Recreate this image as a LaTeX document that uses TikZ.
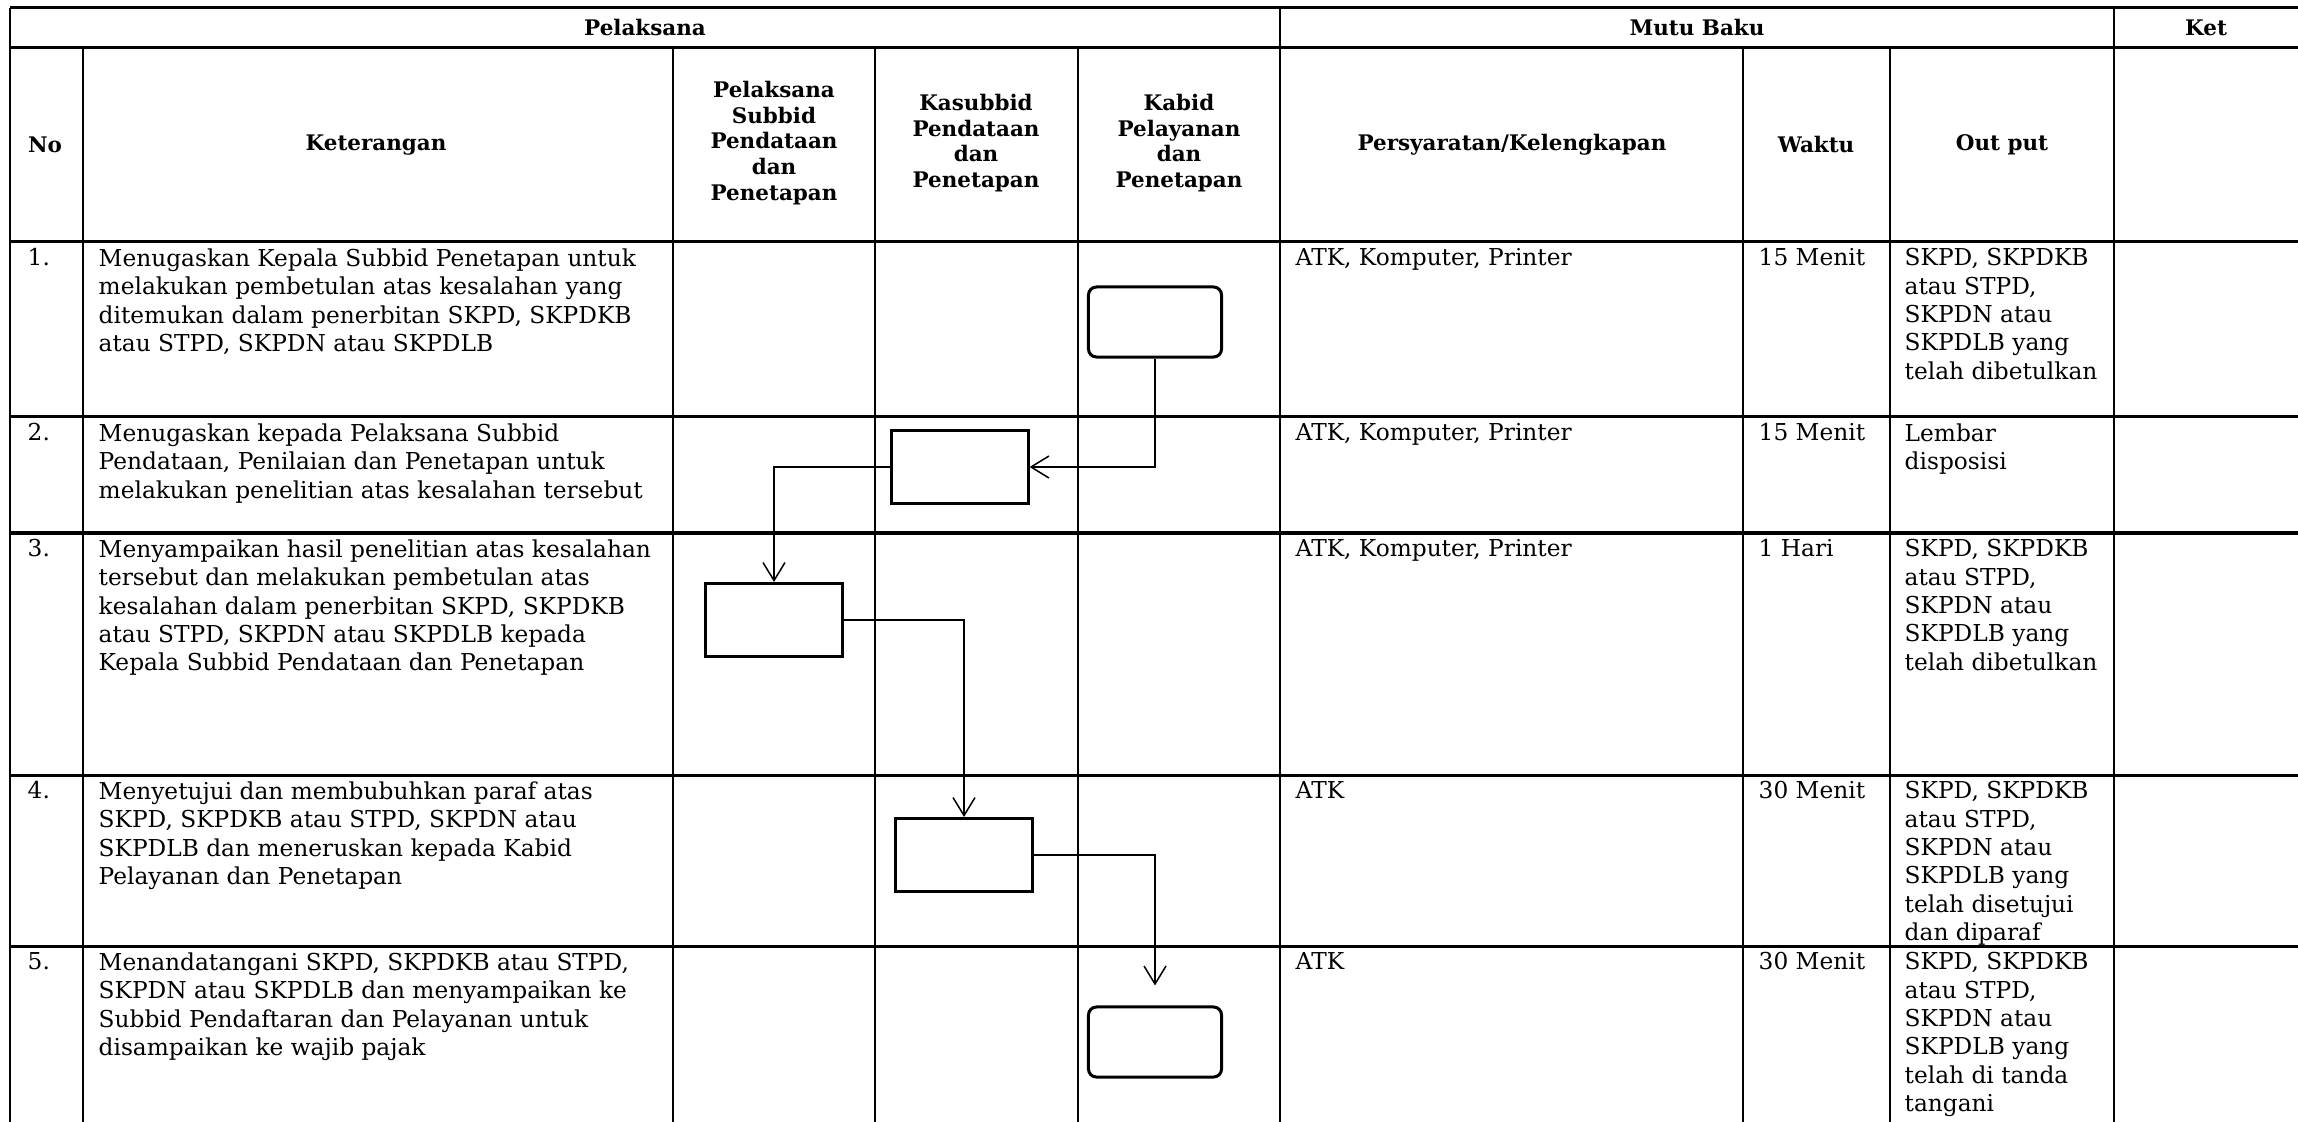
\documentclass[tikz,border=0pt]{standalone}
\usepackage{fontspec}
\setmainfont{DejaVu Serif}
\usetikzlibrary{arrows.meta}

\begin{document}
\begin{tikzpicture}[x=0.01cm, y=-0.01cm,
    garisH/.style={line width=0.03cm},
    garisV/.style={line width=0.02cm},
    judul/.style={inner sep=0pt, align=center, font=\bfseries\fontsize{6.1}{7.3}\selectfont},
    isi/.style={anchor=north west, inner sep=0pt, align=left, font=\fontsize{6.62}{8.05}\selectfont},
    proses/.style={draw, line width=0.03cm, inner sep=0pt, minimum width=1.36cm, minimum height=0.73cm},
    terminal/.style={proses, rounded corners=0.08cm, minimum width=1.33cm, minimum height=0.70cm},
    alur/.style={line width=0.015cm, -{Straight Barb[length=0.18cm, width=0.22cm]}}]

    \fill[white] (0,0) rectangle (2298,1122);
    \useasboundingbox (0,0) rectangle (2298,1122);

    % Garis tabel
    \draw[garisH] (10,8) -- (2298,8) (10,48) -- (2298,48) (10,242) -- (2298,242)
        (10,417) -- (2298,417) (10,533) -- (2298,533) (10,775) -- (2298,775)
        (10,946) -- (2298,946);
    \draw[garisV] (10,8) -- (10,1122) (1280,8) -- (1280,1122) (2114,8) -- (2114,1122)
        (83,48) -- (83,1122) (673,48) -- (673,1122) (875,48) -- (875,1122)
        (1078,48) -- (1078,1122) (1743,48) -- (1743,1122) (1890,48) -- (1890,1122);

    % Judul kolom
    \node[judul] (hPel) at (645,28) {Pelaksana};
    \node[judul] (hMutu) at (1697,28) {Mutu Baku};
    \node[judul] (hKet) at (2206,28) {Ket};
    \node[judul] (hNo) at (45,145) {No};
    \node[judul] (hKeter) at (376,145) {Keterangan};
    \node[judul] (hPS) at (774,143) {Pelaksana\\Subbid\\Pendataan\\dan\\Penetapan};
    \node[judul] (hKS) at (976,143) {Kasubbid\\Pendataan\\dan\\Penetapan};
    \node[judul] (hKB) at (1179,143) {Kabid\\Pelayanan\\dan\\Penetapan};
    \node[judul] (hSyarat) at (1512,145) {Persyaratan/Kelengkapan};
    \node[judul] (hWaktu) at (1816,145) {Waktu};
    \node[judul] (hOut) at (2002,145) {Out put};

    % Baris 1
    \node[isi] (no1) at (27,248) {1.};
    \node[isi] (ket1) at (98,248) {Menugaskan Kepala Subbid Penetapan untuk\\melakukan pembetulan atas kesalahan yang\\ditemukan dalam penerbitan SKPD, SKPDKB\\atau STPD, SKPDN atau SKPDLB};
    \node[isi] (syarat1) at (1295,248) {ATK, Komputer, Printer};
    \node[isi] (waktu1) at (1758,248) {15 Menit};
    \node[isi] (out1) at (1904,248) {SKPD, SKPDKB\\atau STPD,\\SKPDN atau\\SKPDLB yang\\telah dibetulkan};

    % Baris 2
    \node[isi] (no2) at (27,423) {2.};
    \node[isi] (ket2) at (98,423) {Menugaskan kepada Pelaksana Subbid\\Pendataan, Penilaian dan Penetapan untuk\\melakukan penelitian atas kesalahan tersebut};
    \node[isi] (syarat2) at (1295,423) {ATK, Komputer, Printer};
    \node[isi] (waktu2) at (1758,423) {15 Menit};
    \node[isi] (out2) at (1904,423) {Lembar\\disposisi};

    % Baris 3
    \node[isi] (no3) at (27,539) {3.};
    \node[isi] (ket3) at (98,539) {Menyampaikan hasil penelitian atas kesalahan\\tersebut dan melakukan pembetulan atas\\kesalahan dalam penerbitan SKPD, SKPDKB\\atau STPD, SKPDN atau SKPDLB kepada\\Kepala Subbid Pendataan dan Penetapan};
    \node[isi] (syarat3) at (1295,539) {ATK, Komputer, Printer};
    \node[isi] (waktu3) at (1758,539) {1 Hari};
    \node[isi] (out3) at (1904,539) {SKPD, SKPDKB\\atau STPD,\\SKPDN atau\\SKPDLB yang\\telah dibetulkan};

    % Baris 4
    \node[isi] (no4) at (27,781) {4.};
    \node[isi] (ket4) at (98,781) {Menyetujui dan membubuhkan paraf atas\\SKPD, SKPDKB atau STPD, SKPDN atau\\SKPDLB dan meneruskan kepada Kabid\\Pelayanan dan Penetapan};
    \node[isi] (syarat4) at (1295,781) {ATK};
    \node[isi] (waktu4) at (1758,781) {30 Menit};
    \node[isi] (out4) at (1904,781) {SKPD, SKPDKB\\atau STPD,\\SKPDN atau\\SKPDLB yang\\telah disetujui\\dan diparaf};

    % Baris 5
    \node[isi] (no5) at (27,952) {5.};
    \node[isi] (ket5) at (98,952) {Menandatangani SKPD, SKPDKB atau STPD,\\SKPDN atau SKPDLB dan menyampaikan ke\\Subbid Pendaftaran dan Pelayanan untuk\\disampaikan ke wajib pajak};
    \node[isi] (syarat5) at (1295,952) {ATK};
    \node[isi] (waktu5) at (1758,952) {30 Menit};
    \node[isi] (out5) at (1904,952) {SKPD, SKPDKB\\atau STPD,\\SKPDN atau\\SKPDLB yang\\telah di tanda\\tangani};

    % Simbol alur
    \node[terminal] (s1) at (1155,322) {};
    \node[proses] (s2) at (960,467) {};
    \node[proses] (s3) at (774,620) {};
    \node[proses] (s4) at (964,855) {};
    \node[terminal] (s5) at (1155,1042) {};

    % Panah
    \draw[alur] (s1.south) |- (s2.east);
    \draw[alur] (s2.west) -| (s3.north);
    \draw[alur] (s3.east) -| (s4.north);
    \draw[alur, shorten >=0.2cm] (s4.east) -| (s5.north);
\end{tikzpicture}
\end{document}
